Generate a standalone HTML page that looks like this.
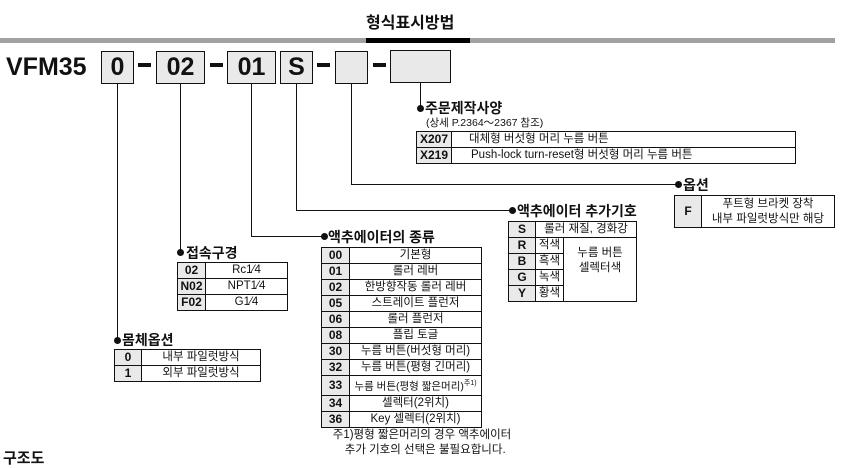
<!DOCTYPE html>
<html><head><meta charset="utf-8"><style>
*{margin:0;padding:0;box-sizing:border-box}
body{width:862px;height:457px;background:#fff;position:relative;overflow:hidden;font-family:"Liberation Sans","Noto Sans CJK KR",sans-serif;color:#111}
.a{position:absolute}
.box{position:absolute;border:1.5px solid #111;background:#e8e9e8;font-weight:bold;font-size:25px;text-align:center;line-height:30px;top:51px;height:33px}
.dash{position:absolute;top:63px;height:4px;background:#111;width:13px}
.v{position:absolute;width:1px;background:#111}
.h{position:absolute;height:1px;background:#111}
.dot{position:absolute;width:7px;height:7px;border-radius:50%;background:#111}
.hd{position:absolute;font-weight:bold;font-size:14px;line-height:16px}
table{position:absolute;border-collapse:collapse;font-size:11.5px}
td{border:1.5px solid #111;height:16px;line-height:15px;padding:0;text-align:center;white-space:nowrap;vertical-align:middle}
td.c{background:#e8e9e8;font-weight:bold;font-size:12px}
</style></head><body>
<div class="a" style="left:366px;top:13px;font-size:16px;font-weight:bold;line-height:22px">형식표시방법</div>
<div class="a" style="left:0;top:38px;width:835px;height:5px;background:#a0a1a0"></div>
<div class="a" style="left:366px;top:38px;width:104px;height:5px;background:#000"></div>

<div class="a" style="left:6px;top:52px;font-size:25px;font-weight:bold;line-height:30px">VFM35</div>
<div class="box" style="left:101px;width:33px">0</div>
<div class="dash" style="left:138px"></div>
<div class="box" style="left:156px;width:49px">02</div>
<div class="dash" style="left:210px"></div>
<div class="box" style="left:227px;width:49px">01</div>
<div class="box" style="left:280px;width:33px">S</div>
<div class="dash" style="left:317px"></div>
<div class="box" style="left:335px;width:33px"></div>
<div class="dash" style="left:373px"></div>
<div class="box" style="left:390px;width:61px;top:50px"></div>

<div class="v" style="left:420px;top:82px;height:26px"></div>
<div class="dot" style="left:417px;top:105px"></div>
<div class="v" style="left:351px;top:84px;height:100px"></div>
<div class="h" style="left:351px;top:184px;width:325px"></div>
<div class="dot" style="left:675px;top:181px"></div>
<div class="v" style="left:296px;top:84px;height:126px"></div>
<div class="h" style="left:296px;top:210px;width:214px"></div>
<div class="dot" style="left:509px;top:207px"></div>
<div class="v" style="left:251px;top:84px;height:152px"></div>
<div class="h" style="left:251px;top:236px;width:72px"></div>
<div class="dot" style="left:321px;top:233px"></div>
<div class="v" style="left:180px;top:84px;height:168px"></div>
<div class="dot" style="left:177px;top:249px"></div>
<div class="v" style="left:117px;top:84px;height:256px"></div>
<div class="dot" style="left:114px;top:337px"></div>

<div class="hd" style="left:425px;top:100px">주문제작사양</div>
<div class="a" style="left:426px;top:117px;font-size:10.5px;line-height:12px">(상세 P.2364～2367 참조)</div>
<table style="left:416px;top:131px;width:380px">
<tr><td class="c" style="width:35px">X207</td><td style="text-align:left;padding-left:17px">대체형 버섯형 머리 누름 버튼</td></tr>
<tr><td class="c">X219</td><td style="text-align:left;padding-left:19px">Push-lock turn-reset형 버섯형 머리 누름 버튼</td></tr>
</table>

<div class="hd" style="left:683px;top:177px">옵션</div>
<table style="left:674px;top:195px;width:161px">
<tr><td class="c" style="width:27px;height:32px">F</td><td style="line-height:15px">푸트형 브라켓 장착<br>내부 파일럿방식만 해당</td></tr>
</table>

<div class="hd" style="left:517px;top:203px">액추에이터 추가기호</div>
<table style="left:508px;top:221px;width:129px">
<tr><td class="c" style="width:27px">S</td><td colspan="2">롤러 재질, 경화강</td></tr>
<tr><td class="c">R</td><td style="width:28px">적색</td><td rowspan="4" style="line-height:15px;vertical-align:top;padding-top:8px">누름 버튼<br>셀렉터색</td></tr>
<tr><td class="c">B</td><td>흑색</td></tr>
<tr><td class="c">G</td><td>녹색</td></tr>
<tr><td class="c">Y</td><td>황색</td></tr>
</table>

<div class="hd" style="left:328px;top:229px">액추에이터의 종류</div>
<table style="left:321px;top:247px;width:161px">
<tr><td class="c" style="width:28px">00</td><td>기본형</td></tr>
<tr><td class="c">01</td><td>롤러 레버</td></tr>
<tr><td class="c">02</td><td>한방향작동 롤러 레버</td></tr>
<tr><td class="c">05</td><td>스트레이트 플런저</td></tr>
<tr><td class="c">06</td><td>롤러 플런저</td></tr>
<tr><td class="c">08</td><td>플립 토글</td></tr>
<tr><td class="c">30</td><td>누름 버튼(버섯형 머리)</td></tr>
<tr><td class="c">32</td><td>누름 버튼(평형 긴머리)</td></tr>
<tr><td class="c">33</td><td style="font-size:10.5px">누름 버튼(평형 짧은머리)<sup style="font-size:7px">주1)</sup></td></tr>
<tr><td class="c">34</td><td>셀렉터(2위치)</td></tr>
<tr><td class="c">36</td><td>Key 셀렉터(2위치)</td></tr>
</table>
<div class="a" style="left:322px;top:428px;font-size:11.5px;line-height:15px;text-align:center;width:200px">주1)평형 짧은머리의 경우 액추에이터<br>&nbsp;&nbsp;추가 기호의 선택은 불필요합니다.</div>

<div class="hd" style="left:186px;top:245px">접속구경</div>
<table style="left:177px;top:262px;width:111px">
<tr><td class="c" style="width:28px">02</td><td>Rc1⁄4</td></tr>
<tr><td class="c">N02</td><td>NPT1⁄4</td></tr>
<tr><td class="c">F02</td><td>G1⁄4</td></tr>
</table>

<div class="hd" style="left:122px;top:332px">몸체옵션</div>
<table style="left:114px;top:349px;width:147px">
<tr><td class="c" style="width:27px">0</td><td>내부 파일럿방식</td></tr>
<tr><td class="c">1</td><td>외부 파일럿방식</td></tr>
</table>

<div class="a" style="left:3px;top:450px;font-size:15px;font-weight:bold;line-height:18px">구조도</div>
</body></html>
